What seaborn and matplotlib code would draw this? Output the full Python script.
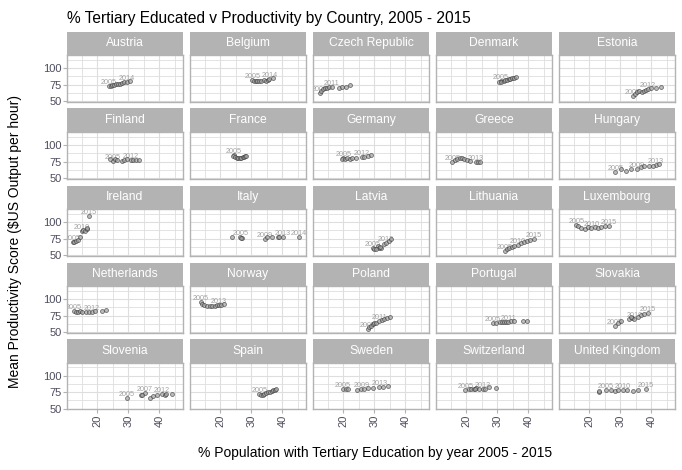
import numpy as np
import pandas as pd
import matplotlib.pyplot as plt
import seaborn as sns

# --- Data ---
years = list(range(2005, 2016))
countries = ['Austria', 'Belgium', 'Czech Republic', 'Denmark', 'Estonia',
             'Finland', 'France', 'Germany', 'Greece', 'Hungary',
             'Ireland', 'Italy', 'Latvia', 'Lithuania', 'Luxembourg',
             'Netherlands', 'Norway', 'Poland', 'Portugal', 'Slovakia',
             'Slovenia', 'Spain', 'Sweden', 'Switzerland', 'United Kingdom']

tertiary = {
    'Austria':        [23.8, 24.3, 24.8, 25.3, 25.9, 26.6, 27.3, 28.0, 28.7, 29.6, 30.6],
    'Belgium':        [30.3, 30.8, 31.4, 31.9, 32.4, 33.0, 34.2, 34.8, 35.3, 35.8, 37.0],
    'Czech Republic': [12.4, 12.9, 13.3, 14.0, 14.6, 15.3, 16.2, 18.5, 19.6, 20.8, 22.2],
    'Denmark':        [31.0, 30.5, 31.3, 32.0, 32.5, 33.2, 33.7, 34.2, 34.8, 35.4, 36.1],
    'Estonia':        [33.9, 34.6, 35.3, 36.0, 36.8, 37.5, 38.2, 38.8, 40.0, 41.5, 43.1],
    'Finland':        [25.0, 24.2, 25.6, 26.3, 27.8, 28.6, 29.5, 30.9, 31.5, 32.4, 33.3],
    'France':         [24.3, 24.0, 24.6, 25.2, 25.8, 26.3, 26.8, 27.3, 27.7, 28.0, 28.3],
    'Germany':        [20.0, 19.4, 20.6, 21.3, 22.0, 22.8, 24.0, 25.9, 26.8, 27.8, 29.0],
    'Greece':         [15.5, 16.3, 17.0, 17.8, 18.5, 19.3, 20.2, 21.2, 23.0, 23.7, 24.3],
    'Hungary':        [28.4, 30.3, 31.9, 33.5, 35.3, 36.7, 37.7, 39.3, 41.5, 40.4, 42.3],
    'Ireland':        [12.0, 12.5, 13.2, 13.8, 14.3, 14.9, 15.4, 16.0, 16.5, 16.8, 17.3],
    'Italy':          [26.4, 23.6, 27.0, 26.8, 34.4, 34.9, 36.7, 38.7, 40.2, 45.2, 39.0],
    'Latvia':         [29.4, 29.9, 31.0, 31.5, 30.5, 32.1, 31.8, 33.1, 33.7, 34.7, 35.3],
    'Lithuania':      [32.3, 33.0, 33.8, 34.6, 35.5, 36.5, 37.5, 38.5, 39.5, 40.6, 41.8],
    'Luxembourg':     [15.8, 16.4, 17.4, 18.5, 19.6, 20.6, 21.7, 22.8, 23.8, 24.9, 26.3],
    'Netherlands':    [12.4, 13.0, 13.6, 14.3, 15.0, 16.2, 17.3, 18.3, 19.3, 21.5, 22.9],
    'Norway':         [13.7, 14.2, 14.8, 15.6, 16.6, 17.4, 18.2, 18.9, 19.5, 20.3, 21.1],
    'Poland':         [27.8, 28.3, 28.9, 29.4, 29.9, 30.5, 31.5, 32.3, 33.1, 34.2, 35.0],
    'Portugal':       [28.6, 29.7, 30.7, 31.4, 32.2, 32.8, 33.5, 34.4, 35.5, 38.3, 39.7],
    'Slovakia':       [28.1, 29.2, 30.3, 32.9, 33.8, 34.5, 33.5, 35.6, 36.7, 37.7, 38.8],
    'Slovenia':       [29.6, 33.9, 35.2, 34.5, 36.9, 37.8, 39.2, 40.8, 41.7, 42.1, 44.0],
    'Spain':          [32.6, 33.0, 33.6, 34.2, 34.8, 35.4, 36.0, 36.5, 37.0, 37.5, 38.0],
    'Sweden':         [19.8, 20.7, 21.5, 24.5, 25.8, 26.8, 27.9, 29.5, 31.6, 32.8, 34.3],
    'Switzerland':    [19.7, 20.7, 21.6, 22.4, 23.2, 22.8, 24.0, 25.3, 25.9, 27.3, 29.6],
    'United Kingdom': [25.4, 23.1, 23.2, 27.1, 28.1, 30.8, 29.2, 32.1, 34.0, 35.6, 38.1],
}

productivity = {
    'Austria':        [72.5, 73.5, 74.5, 75.0, 75.5, 76.0, 76.5, 77.5, 78.5, 79.5, 80.5],
    'Belgium':        [81.5, 80.5, 80.0, 81.0, 80.0, 80.5, 81.5, 81.0, 82.0, 83.5, 84.5],
    'Czech Republic': [62.0, 66.0, 68.5, 70.0, 70.5, 71.0, 71.5, 70.5, 71.0, 71.5, 74.0],
    'Denmark':        [80.5, 78.5, 79.0, 80.0, 81.5, 82.0, 83.0, 83.5, 84.5, 85.0, 86.5],
    'Estonia':        [57.0, 61.0, 64.0, 65.5, 64.5, 66.0, 67.5, 68.5, 69.5, 70.5, 71.5],
    'Finland':        [76.0, 78.5, 79.5, 78.0, 76.5, 77.5, 78.5, 77.5, 78.0, 77.5, 77.5],
    'France':         [84.5, 83.0, 81.5, 80.5, 80.0, 80.5, 81.0, 82.0, 82.5, 83.5, 84.0],
    'Germany':        [80.0, 79.0, 79.5, 80.5, 79.0, 80.5, 81.0, 82.0, 82.5, 83.5, 84.5],
    'Greece':         [75.0, 77.0, 79.0, 81.0, 80.5, 79.0, 77.5, 76.0, 75.0, 74.5, 74.0],
    'Hungary':        [59.2, 63.3, 60.8, 63.3, 63.3, 67.3, 68.2, 68.2, 70.0, 68.2, 70.8],
    'Ireland':        [69.5, 70.0, 71.0, 73.5, 78.0, 86.0, 88.0, 87.0, 90.0, 91.5, 108.7],
    'Italy':          [77.2, 77.2, 75.8, 76.5, 73.8, 77.2, 77.2, 77.2, 77.2, 77.2, 77.2],
    'Latvia':         [60.0, 58.8, 63.8, 61.3, 58.5, 60.0, 62.5, 66.3, 68.8, 71.2, 73.8],
    'Lithuania':      [55.6, 59.0, 61.0, 62.5, 63.0, 66.0, 68.5, 70.0, 71.5, 73.0, 74.5],
    'Luxembourg':     [95.5, 94.8, 91.3, 89.8, 92.0, 91.3, 92.8, 91.5, 92.8, 93.8, 94.0],
    'Netherlands':    [82.0, 81.0, 80.5, 81.5, 80.0, 80.5, 80.5, 81.0, 82.0, 82.5, 83.5],
    'Norway':         [96.0, 93.0, 91.0, 90.0, 89.5, 90.0, 90.0, 90.5, 91.0, 91.5, 92.5],
    'Poland':         [54.3, 57.0, 59.3, 61.5, 63.3, 64.5, 66.5, 68.5, 70.3, 71.8, 73.3],
    'Portugal':       [64.3, 64.3, 65.0, 65.0, 65.3, 65.5, 66.0, 66.7, 67.0, 66.7, 66.7],
    'Slovakia':       [59.3, 64.3, 66.7, 70.5, 71.8, 69.3, 72.5, 73.3, 75.3, 76.8, 78.3],
    'Slovenia':       [65.5, 70.5, 73.5, 71.0, 66.5, 69.0, 71.0, 71.5, 71.0, 72.0, 72.5],
    'Spain':          [71.5, 70.5, 71.0, 72.5, 74.0, 75.0, 75.5, 76.0, 77.5, 78.5, 80.0],
    'Sweden':         [79.0, 79.0, 79.5, 78.5, 80.0, 79.5, 81.0, 81.5, 82.5, 83.5, 85.0],
    'Switzerland':    [78.0, 79.0, 80.0, 79.0, 80.5, 79.5, 80.0, 80.0, 80.0, 83.0, 81.5],
    'United Kingdom': [77.5, 75.0, 76.5, 77.5, 76.5, 77.5, 77.5, 77.5, 76.5, 77.5, 79.0],
}

# years that carry a text label in each facet
label_years = {
    'Austria': [2005, 2014], 'Belgium': [2005, 2014], 'Czech Republic': [2005, 2011],
    'Denmark': [2005], 'Estonia': [2005, 2012], 'Finland': [2005, 2012],
    'France': [2005], 'Germany': [2005, 2012], 'Greece': [2005, 2013],
    'Hungary': [2005, 2009, 2013], 'Ireland': [2005, 2010, 2015],
    'Italy': [2005, 2009, 2013, 2014], 'Latvia': [2005, 2013],
    'Lithuania': [2005, 2010, 2015], 'Luxembourg': [2005, 2010, 2015],
    'Netherlands': [2005, 2012], 'Norway': [2005, 2013], 'Poland': [2005, 2011],
    'Portugal': [2005, 2011], 'Slovakia': [2005, 2010, 2015],
    'Slovenia': [2005, 2007, 2012], 'Spain': [2005], 'Sweden': [2005, 2009, 2013],
    'Switzerland': [2005, 2012], 'United Kingdom': [2005, 2010, 2015],
}

rows = []
for c in countries:
    for yr, xv, yv in zip(years, tertiary[c], productivity[c]):
        rows.append({'country': c, 'year': yr, 'tertiary': xv, 'productivity': yv})
df = pd.DataFrame(rows)

# --- Style ---
sns.set_theme(style='white')
plt.rcParams['font.family'] = ['Liberation Sans', 'DejaVu Sans']

W, H = 682, 470
fig = plt.figure(figsize=(W / 100, H / 100), dpi=100)

col_left = [67, 190, 313, 436, 559]
row_top = [55, 132, 209, 286, 362.5]
pw, ph, sh = 116, 46.5, 23.5
border = '#b3b3b3'
grid = '#dedede'
tick_col = '#4d4d5e'

for i, c in enumerate(countries):
    r, k = divmod(i, 5)
    L, T = col_left[k], row_top[r]
    ax = fig.add_axes([L / W, 1 - (T + ph) / H, pw / W, ph / H])
    sub = df[df['country'] == c]

    sns.scatterplot(data=sub, x='tertiary', y='productivity', ax=ax, s=8,
                    color='#a0a0a0', edgecolor='#333333', linewidth=0.55,
                    alpha=0.7, legend=False, zorder=3)
    lab = sub[sub['year'].isin(label_years[c])]
    for _, rw in lab.iterrows():
        ax.text(rw['tertiary'], rw['productivity'] + 3.0, str(rw['year']),
                ha='center', va='baseline', fontsize=5.2, color='#a3a3a3',
                zorder=2, clip_on=True)

    ax.set_xlim(10.2, 47.6)
    ax.set_ylim(49.3, 120)
    ax.set_xticks([20, 30, 40])
    ax.set_xticks([15, 25, 35, 45], minor=True)
    ax.set_yticks([50, 75, 100])
    ax.set_yticks([62.5, 87.5, 112.5], minor=True)
    ax.grid(which='major', color=grid, lw=0.8)
    ax.grid(which='minor', color=grid, lw=0.6)
    ax.set_axisbelow(True)
    for sp in ax.spines.values():
        sp.set_color(border)
        sp.set_linewidth(1.0)
    ax.set_xlabel('')
    ax.set_ylabel('')
    ax.tick_params(which='minor', length=0)
    ax.tick_params(which='major', length=2.8, width=0.8, color=border,
                   labelsize=8, labelcolor=tick_col, pad=1.2)
    if k == 0:
        ax.tick_params(axis='y', left=True)
    else:
        ax.tick_params(axis='y', left=False, labelleft=False)
    if r == 4:
        ax.tick_params(axis='x', bottom=True, labelrotation=90)
    else:
        ax.tick_params(axis='x', bottom=False, labelbottom=False)

    # facet strip
    sax = fig.add_axes([L / W, 1 - T / H, pw / W, sh / H])
    sax.set_facecolor(border)
    sax.set_xticks([])
    sax.set_yticks([])
    for sp in sax.spines.values():
        sp.set_visible(False)
    sax.text(0.5, 0.5, c, ha='center', va='center', color='white',
             fontsize=8.7, transform=sax.transAxes)

fig.text(67 / W, 1 - 18 / H,
         '% Tertiary Educated v Productivity by Country, 2005 - 2015',
         ha='left', va='center', fontsize=11.2, color='black')
fig.text(15 / W, 1 - 241 / H,
         'Mean Productivity Score ($US Output per hour)',
         ha='center', va='center', rotation=90, fontsize=10, color='black')
fig.text(375 / W, 1 - 453 / H,
         '% Population with Tertiary Education by year 2005 - 2015',
         ha='center', va='center', fontsize=10, color='black')

fig.savefig('out.png', dpi=100)
